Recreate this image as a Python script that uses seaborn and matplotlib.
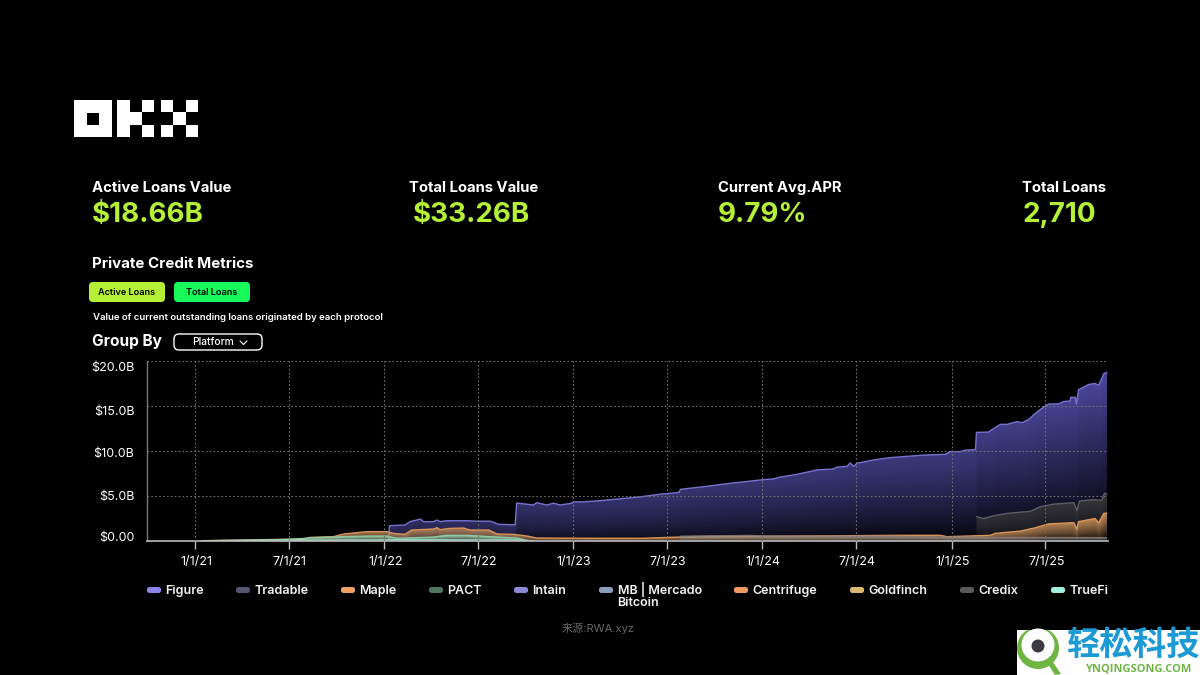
import numpy as np
import pandas as pd
import seaborn as sns
import matplotlib.pyplot as plt
import matplotlib.dates as mdates
from matplotlib.patches import FancyBboxPatch, Rectangle, Circle, Polygon
from matplotlib.colors import to_rgb
from matplotlib.transforms import ScaledTranslation

# values, top edge of each layer in $B
figure_dates = ["2022-01-10", "2022-01-11", "2022-02-10", "2022-02-20", "2022-03-12", "2022-03-18", "2022-04-06",
                "2022-04-13", "2022-04-19", "2022-05-02", "2022-06-10", "2022-06-29", "2022-07-25", "2022-08-10",
                "2022-09-11", "2022-09-14", "2022-10-16", "2022-10-23", "2022-11-11", "2022-11-24", "2022-12-07",
                "2022-12-30", "2023-01-01", "2023-01-21", "2023-02-22", "2023-05-10", "2023-06-18", "2023-07-25",
                "2023-07-27", "2023-09-15", "2023-10-30", "2024-01-01", "2024-01-23", "2024-02-05", "2024-03-08",
                "2024-04-16", "2024-05-18", "2024-05-24", "2024-06-13", "2024-06-19", "2024-06-26", "2024-07-02",
                "2024-08-03", "2024-09-04", "2024-11-08", "2024-12-20", "2024-12-29", "2025-01-18", "2025-01-27",
                "2025-02-16", "2025-02-18", "2025-03-13", "2025-03-18", "2025-04-05", "2025-04-18", "2025-05-07",
                "2025-05-17", "2025-05-30", "2025-06-08", "2025-06-28", "2025-07-07", "2025-07-27", "2025-08-05",
                "2025-08-18", "2025-08-19", "2025-08-28", "2025-08-30", "2025-09-03", "2025-09-23", "2025-10-05",
                "2025-10-12", "2025-10-22", "2025-10-28"]
figure_vals = [0, 1.7, 1.78, 2.15, 2.44, 2.15, 2.15,
               2.33, 2.15, 2.25, 2.25, 2.2, 2.2, 1.85,
               1.8, 4.22, 4.0, 4.25, 4.0, 4.2, 4.0,
               4.2, 4.35, 4.35, 4.48, 4.9, 5.2, 5.4,
               5.74, 6.07, 6.4, 6.8, 6.9, 7.1, 7.4,
               7.9, 8.0, 8.2, 8.3, 8.67, 8.3, 8.63,
               9.0, 9.26, 9.55, 9.63, 9.93, 9.93, 10.1,
               10.15, 12.07, 12.1, 12.3, 12.96, 12.96, 13.26,
               13.15, 13.5, 14.0, 14.9, 15.2, 15.25, 15.5,
               15.55, 15.96, 15.96, 15.2, 16.8, 17.4, 17.5,
               17.3, 18.6, 18.74]

tradable_dates = ["2025-02-18", "2025-03-04", "2025-03-23", "2025-04-18", "2025-06-02", "2025-06-21", "2025-07-17",
                  "2025-08-25", "2025-08-31", "2025-09-05", "2025-10-02", "2025-10-18", "2025-10-23", "2025-10-28"]
tradable_vals = [2.7, 2.5, 2.8, 3.07, 3.3, 3.8, 4.1, 4.26, 3.4, 4.44, 4.6, 4.5, 5.3, 5.2]

maple_dates = ["2021-01-14", "2021-06-08", "2021-07-23", "2021-08-11", "2021-09-25", "2021-10-15", "2021-11-29",
               "2022-01-06", "2022-01-19", "2022-02-10", "2022-02-23", "2022-04-06", "2022-04-13", "2022-04-19",
               "2022-05-08", "2022-06-03", "2022-06-16", "2022-07-22", "2022-08-07", "2022-09-08", "2022-10-04",
               "2022-10-23", "2023-02-22", "2023-05-10", "2023-07-25", "2024-09-11", "2024-12-10", "2024-12-23",
               "2025-03-17", "2025-03-26", "2025-05-14", "2025-06-12", "2025-07-07", "2025-08-25", "2025-08-31",
               "2025-09-03", "2025-10-05", "2025-10-12", "2025-10-22", "2025-10-28"]
maple_vals = [0.03, 0.18, 0.18, 0.4, 0.48, 0.78, 1.04,
              1.04, 0.85, 0.74, 1.22, 1.33, 1.48, 1.26,
              1.4, 1.44, 1.22, 1.22, 0.78, 0.74, 0.55,
              0.33, 0.3, 0.3, 0.44, 0.63, 0.63, 0.48,
              0.63, 0.85, 1.1, 1.48, 1.9, 2.04, 1.33,
              2.15, 2.5, 2.04, 3.07, 3.1]

credix_dates = ["2023-07-27", "2023-12-09", "2024-01-04", "2024-09-11", "2024-12-10", "2025-10-28"]
credix_vals = [0.55, 0.65, 0.58, 0.55, 0.45, 0.4]

pact_dates = ["2021-01-14", "2021-06-08", "2021-08-05", "2021-08-17", "2021-10-15", "2021-11-29", "2022-01-06",
              "2022-01-26", "2022-04-06", "2022-05-02", "2022-06-10", "2022-07-25", "2022-09-14", "2022-10-04",
              "2022-10-16"]
pact_vals = [0.02, 0.14, 0.3, 0.37, 0.48, 0.55, 0.55, 0.3, 0.44, 0.63, 0.63, 0.48, 0.33, 0.07, 0]

truefi_dates = ["2021-01-14", "2021-06-08", "2021-10-15", "2022-04-06", "2022-09-14", "2022-10-16"]
truefi_vals = [0.03, 0.06, 0.1, 0.12, 0.1, 0]

y_ticks = [0, 5, 10, 15, 20]
y_labels = ["$0.00", "$5.0B", "$10.0B", "$15.0B", "$20.0B"]
x_ticks = ["2021-01-01", "2021-07-01", "2022-01-01", "2022-07-01", "2023-01-01",
           "2023-07-01", "2024-01-01", "2024-07-01", "2025-01-01", "2025-07-01"]
x_labels = ["1/1/21", "7/1/21", "1/1/22", "7/1/22", "1/1/23", "7/1/23", "1/1/24", "7/1/24", "1/1/25", "7/1/25"]

legend_names = ["Figure", "Tradable", "Maple", "PACT", "Intain", "MB | Mercado\nBitcoin",
                "Centrifuge", "Goldfinch", "Credix", "TrueFi"]
legend_colors = ["#8b85ea", "#55556f", "#f0a060", "#4f7560", "#8a8ad8", "#8aa0b8",
                 "#f09a60", "#dcb870", "#5a5a5a", "#a0f0e0"]
legend_x = [147, 236, 341, 429, 514, 599, 734, 850, 960, 1051]

stat_names = ["Active Loans Value", "Total Loans Value", "Current Avg.APR", "Total Loans"]
stat_values = ["$18.66B", "$33.26B", "9.79%", "2,710"]

LIME = "#b4f135"
W, H = 1200, 675

sns.set_theme(style="dark", rc={"figure.facecolor": "black", "axes.facecolor": "black"})
plt.rcParams["font.family"] = ["Inter", "Noto Sans CJK SC", "DejaVu Sans"]

fig = plt.figure(figsize=(12, 6.75), dpi=100)
ax = fig.add_axes([147 / W, 1 - 541 / H, (1108 - 147) / W, (541 - 361) / H])


def draw_layer(dates, vals, line_color, fill_color, low, high, order, lw=1.0):
    df = pd.DataFrame({"date": pd.to_datetime(dates), "value": vals})
    x = mdates.date2num(df["date"])
    y = np.array(df["value"], dtype=float)
    # gradient fill, clipped to the area under the line
    poly = ax.fill_between(df["date"], y, 0, color="none", zorder=order)
    xg = np.linspace(x[0], x[-1], 700)
    yg = np.linspace(0, y.max(), 300)
    env = np.interp(xg, x, y)
    xx, yy = np.meshgrid(xg, yg)
    env2 = np.maximum(np.tile(env, (len(yg), 1)), 0.01)
    # low stretches of a layer stay flatter than the tall ones
    gamma = 0.3 + 0.8 * env2 / y.max()
    alpha = np.clip(yy / env2, 0, 1) ** gamma * (low + high * env2 / y.max())
    rgba = np.zeros(alpha.shape + (4,))
    rgba[..., :3] = to_rgb(fill_color)
    rgba[..., 3] = np.clip(alpha, 0, 1)
    im = ax.imshow(rgba, origin="lower", aspect="auto", zorder=order,
                   extent=[x[0], x[-1], 0, y.max()])
    im.set_clip_path(poly.get_paths()[0], transform=ax.transData)
    sns.lineplot(data=df, x="date", y="value", ax=ax, color=line_color, lw=lw,
                 estimator=None, sort=False, zorder=order + 0.1)


draw_layer(figure_dates, figure_vals, "#7772cf", "#5a55b9", 0.5, 0.35, 1.0)
draw_layer(tradable_dates, tradable_vals, "#5c5c62", "#38383a", 0.65, 0.3, 1.2)
draw_layer(maple_dates, maple_vals, "#d8935a", "#c48c54", 0.7, 0.3, 1.4)
draw_layer(credix_dates, credix_vals, "#8a7a72", "#8a8a8a", 0.8, 0.1, 1.6, lw=0.6)
draw_layer(pact_dates, pact_vals, "#8fc7a5", "#8fd0a8", 0.7, 0.3, 1.8)
draw_layer(truefi_dates, truefi_vals, "#a0f0e0", "#a0f0e0", 0.8, 0.1, 1.9)

ax.set_xlim(pd.Timestamp("2020-09-30"), pd.Timestamp("2025-10-30"))
ax.set_ylim(0, 20)
ax.set_xlabel("")
ax.set_ylabel("")
ax.set_xticks(pd.to_datetime(x_ticks), x_labels)
ax.set_yticks(y_ticks, y_labels)
ax.set_axisbelow(False)
ax.grid(True, color="#707070", lw=0.8, ls=(0, (1.5, 2)), zorder=3)
ax.tick_params(axis="x", length=6, width=1, color="#bbbbbb", labelcolor="white", labelsize=9, pad=4.5, bottom=True)
ax.tick_params(axis="y", length=0, labelcolor="white", labelsize=9, pad=9)
for name in ["top", "right"]:
    ax.spines[name].set_visible(False)
ax.spines["left"].set_color("#777777")
ax.spines["bottom"].set_color("#bbbbbb")
ax.spines["left"].set_linewidth(1)
ax.spines["bottom"].set_linewidth(1.2)

# y labels in the source sit a few px off their grid lines
for lab, dy in zip(ax.get_yticklabels(), [4, 0.5, -1, -4, -6]):
    lab.set_transform(lab.get_transform() + ScaledTranslation(0, dy / 100, fig.dpi_scale_trans))
for lab in ax.get_xticklabels():
    lab.set_transform(lab.get_transform() + ScaledTranslation(1 / 100, 0, fig.dpi_scale_trans))

# overlay in pixel coords for the page furniture
ov = fig.add_axes([0, 0, 1, 1], zorder=5)
ov.set_xlim(0, W)
ov.set_ylim(H, 0)
ov.axis("off")
ov.patch.set_alpha(0)

# OKX logo
ov.add_patch(Rectangle((74, 100), 37.7, 37.3, color="white", lw=0))
ov.add_patch(Rectangle((86.7, 112.7), 12.6, 12.4, color="black", lw=0))
cell = 12.4
ov.add_patch(Rectangle((117.3, 100), cell, 37.3, color="white", lw=0))
for cx, cy in [(129.7, 112.4), (142, 100), (142, 124.9), (161, 100), (161, 124.9),
               (173.4, 112.4), (186, 100), (186, 124.9)]:
    ov.add_patch(Rectangle((cx, cy), cell, cell, color="white", lw=0))

# headline numbers
for name, value, xn, xv in zip(stat_names, stat_values, [92, 409, 718, 1022], [92, 413, 718, 1022]):
    ov.text(xn, 188, name, color="white", fontsize=10.7, fontweight="bold", va="center", ha="left")
    ov.text(xv, 215, value, color=LIME, fontsize=20, fontweight="bold", va="center", ha="left")

ov.text(92, 264, "Private Credit Metrics", color="white", fontsize=10.85, fontweight="bold", va="center")


def pill(x0, x1, y0, y1, face, edge="none", rad=4):
    ov.add_patch(FancyBboxPatch((x0 + rad, y0 + rad), x1 - x0 - 2 * rad, y1 - y0 - 2 * rad,
                                boxstyle=f"round,pad={rad},rounding_size={rad}",
                                fc=face, ec=edge, lw=1))


pill(89, 165, 282, 302, LIME)
pill(174, 250, 282, 302, "#19f95a")
ov.text(127, 292.5, "Active Loans", color="black", fontsize=6.6, fontweight="semibold", ha="center", va="center")
ov.text(212, 292.5, "Total Loans", color="black", fontsize=6.6, fontweight="semibold", ha="center", va="center")
ov.text(93, 317.5, "Value of current outstanding loans originated by each protocol", color="white",
        fontsize=6.95, fontweight="semibold", va="center")
ov.text(92, 341.5, "Group By", color="white", fontsize=11.1, fontweight="bold", va="center")
pill(174, 262, 334, 350, "black", edge="white", rad=5)
ov.text(192, 342, "Platform", color="white", fontsize=7.4, fontweight="medium", va="center")
ov.plot([240, 243.5, 247], [341, 344.5, 341], color="white", lw=0.8)

# legend
for name, col, lx in zip(legend_names, legend_colors, legend_x):
    pill(lx, lx + 14, 587, 593, col, rad=2.5)
    lines = name.split("\n")
    ov.text(lx + 18.5, 594, lines[0], color="#f2f2f2", fontsize=9, va="baseline", fontweight="semibold")
    if len(lines) > 1:
        ov.text(lx + 18.5, 606.5, lines[1], color="#f2f2f2", fontsize=9, va="baseline", fontweight="semibold")

ov.text(598, 628, "来源:RWA.xyz", color="#666666", fontsize=8, ha="center", va="center")

# watermark block
box = Rectangle((1017, 630), 183, 45, color="white", lw=0, zorder=6)
ov.add_patch(box)
ring = Circle((1038, 648), 21, color="#6fb544", lw=0, zorder=7)
ov.add_patch(ring)
ring.set_clip_path(box)
tail = Polygon([(1048, 664), (1053, 662), (1061, 674), (1055, 675)], color="#6fb544", lw=0, zorder=7)
ov.add_patch(tail)
hole = Circle((1038, 645), 16.5, color="white", lw=0, zorder=7.5)
ov.add_patch(hole)
ov.add_patch(Circle((1038, 646), 6.5, color="#3a3a40", lw=0, zorder=8))
ov.text(1133, 645, "轻松科技", color="#1b9ad6", fontsize=24, fontweight="bold", ha="center", va="center",
        family=["Noto Sans CJK SC", "DejaVu Sans"], zorder=8)
ov.text(1138.5, 669, "YNQINGSONG.COM", color="#6fb544", fontsize=8, fontweight="bold", ha="center", va="center",
        family=["Open Sans", "DejaVu Sans"], zorder=8)

fig.savefig("out.png", dpi=100, facecolor="black")
